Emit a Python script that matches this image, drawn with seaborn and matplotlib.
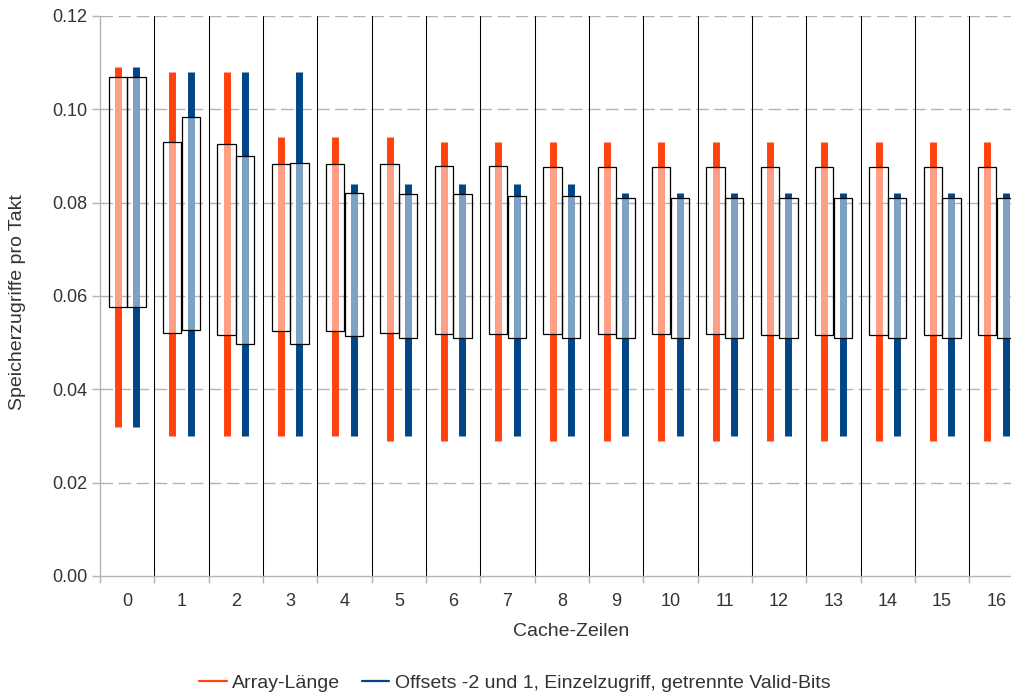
import matplotlib
matplotlib.use("Agg")
import matplotlib.pyplot as plt
from matplotlib.lines import Line2D
import seaborn as sns
import pandas as pd
import numpy as np

categories = list(range(17))
series_names = ["Array-Länge", "Offsets -2 und 1, Einzelzugriff, getrennte Valid-Bits"]

# Array-Länge
a_max = [0.109, 0.108, 0.108, 0.094, 0.094, 0.094, 0.093, 0.093, 0.093, 0.093, 0.093, 0.093, 0.093, 0.093, 0.093, 0.093, 0.093]
a_min = [0.032, 0.030, 0.030, 0.030, 0.030, 0.029, 0.029, 0.029, 0.029, 0.029, 0.029, 0.029, 0.029, 0.029, 0.029, 0.029, 0.029]
a_q3  = [0.107, 0.0931, 0.0926, 0.0882, 0.0882, 0.0882, 0.0878, 0.0878, 0.0877, 0.0877, 0.0877, 0.0877, 0.0877, 0.0877, 0.0877, 0.0877, 0.0877]
a_q1  = [0.0577, 0.0521, 0.0516, 0.0526, 0.0526, 0.0520, 0.0519, 0.0519, 0.0518, 0.0518, 0.0518, 0.0518, 0.0517, 0.0517, 0.0517, 0.0517, 0.0516]

# Offsets -2 und 1, Einzelzugriff, getrennte Valid-Bits
b_max = [0.109, 0.108, 0.108, 0.108, 0.084, 0.084, 0.084, 0.084, 0.084, 0.082, 0.082, 0.082, 0.082, 0.082, 0.082, 0.082, 0.082]
b_min = [0.032, 0.030, 0.030, 0.030, 0.030, 0.030, 0.030, 0.030, 0.030, 0.030, 0.030, 0.030, 0.030, 0.030, 0.030, 0.030, 0.030]
b_q3  = [0.107, 0.0983, 0.0900, 0.0886, 0.0821, 0.0819, 0.0818, 0.0815, 0.0815, 0.0811, 0.0811, 0.0811, 0.0811, 0.0811, 0.0811, 0.0811, 0.0811]
b_q1  = [0.0577, 0.0527, 0.0497, 0.0497, 0.0514, 0.0510, 0.0509, 0.0509, 0.0509, 0.0509, 0.0509, 0.0509, 0.0509, 0.0510, 0.0510, 0.0510, 0.0510]

y_ticks = [0.00, 0.02, 0.04, 0.06, 0.08, 0.10, 0.12]

colors = ["#ff420e", "#004586"]
light_colors = ["#ffa086", "#7fa2c2"]
txt = "#333333"
grid_col = "#b3b3b3"
FS = 13
FS_L = 14

sns.set_style("white")
plt.rcParams["font.family"] = ["Liberation Sans", "DejaVu Sans"]

W, H = 1012, 693
fig = plt.figure(figsize=(W / 100, H / 100), dpi=100)
ax_left, ax_bottom, ax_top = 100, 576, 16
ax_w = 17 * 54.33
ax = fig.add_axes([ax_left / W, (H - ax_bottom) / H, ax_w / W, (ax_bottom - ax_top) / H])

offset = 0.17
box_w = 0.337

rows_range, rows_box = [], []
series = [(a_min, a_max, a_q1, a_q3), (b_min, b_max, b_q1, b_q3)]
for si, (mn, mx, q1, q3) in enumerate(series):
    dx = -offset if si == 0 else offset
    for c in categories:
        x = c + dx
        uid = f"{si}-{c}"
        rows_range += [dict(x=x, y=mn[c], unit=uid, s=series_names[si]),
                       dict(x=x, y=mx[c], unit=uid, s=series_names[si])]
        rows_box += [dict(x=x, y=q1[c], unit=uid, s=series_names[si]),
                     dict(x=x, y=q3[c], unit=uid, s=series_names[si])]
df_range = pd.DataFrame(rows_range)
df_box = pd.DataFrame(rows_box)

# gridlines
for yv in y_ticks[1:]:
    ax.axhline(yv, color=grid_col, lw=1.0, dashes=(9, 4), zorder=0)
# category separators
for c in categories:
    ax.axvline(c + 0.5, color="black", lw=0.75, zorder=1)

sns.lineplot(data=df_range, x="x", y="y", hue="s", units="unit", estimator=None,
             palette=colors, lw=5, legend=False, ax=ax, solid_capstyle="butt",
             sort=False, zorder=2)
sns.lineplot(data=df_box, x="x", y="y", hue="s", units="unit", estimator=None,
             palette=light_colors, lw=5, legend=False, ax=ax, solid_capstyle="butt",
             sort=False, zorder=3)

for si, (mn, mx, q1, q3) in enumerate(series):
    dx = -offset if si == 0 else offset
    xs = np.array(categories) + dx
    ax.bar(xs, np.array(q3) - np.array(q1), bottom=q1, width=box_w,
           facecolor="none", edgecolor="black", linewidth=0.9, zorder=4)

ax.set_xlim(-0.5, 16.5)
ax.set_ylim(0, 0.12)
ax.set_yticks(y_ticks)
ax.set_yticklabels([f"{v:.2f}" for v in y_ticks])
ax.set_xticks(categories)
ax.set_xticklabels([str(c) for c in categories])
ax.set_xticks([c + 0.5 for c in categories[:-1]] + [-0.5], minor=True)

for s in ["top", "right"]:
    ax.spines[s].set_visible(False)
for s in ["left", "bottom"]:
    ax.spines[s].set_color(grid_col)
    ax.spines[s].set_linewidth(1.0)

ax.tick_params(axis="y", which="major", length=6, color=grid_col, width=1,
               labelsize=FS, labelcolor=txt, pad=3, left=True)
ax.tick_params(axis="x", which="major", length=0, labelsize=FS, labelcolor=txt, pad=12)
ax.tick_params(axis="x", which="minor", length=5, color=grid_col, width=1, bottom=True)

ax.set_xlabel("")
ax.set_ylabel("")
fig.text(571 / W, 1 - 632 / H, "Cache-Zeilen", ha="center", va="center", fontsize=FS_L, color=txt)
fig.text(18 / W, 1 - 302 / H, "Speicherzugriffe pro Takt", ha="center", va="center",
         rotation=90, fontsize=FS_L, color=txt)

handles = [Line2D([0], [0], color=colors[0], lw=1.6), Line2D([0], [0], color=colors[1], lw=1.6)]
fig.legend(handles, series_names, loc="center", bbox_to_anchor=(515 / W, 10 / H),
           ncol=2, frameon=False, fontsize=FS_L, labelcolor=txt, handlelength=1.4,
           handletextpad=0.3, columnspacing=1.1)

fig.savefig("out.png", dpi=100)
